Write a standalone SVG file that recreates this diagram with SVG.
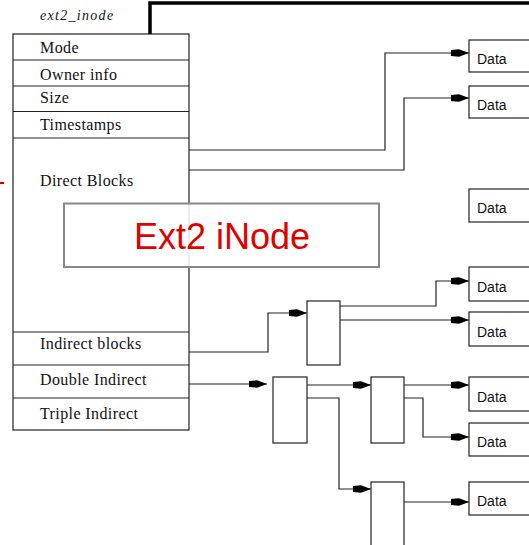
<svg xmlns="http://www.w3.org/2000/svg" width="529" height="545" viewBox="0 0 529 545">
<style>
.box{fill:#fff;stroke:#222;stroke-width:1.2}
.fld{font-family:"Liberation Serif",serif;font-size:16px;letter-spacing:0.4px;fill:#111}
.dt{font-family:"Liberation Sans",Arial,sans-serif;font-size:14px;fill:#111}
.ln{fill:none;stroke:#222;stroke-width:1.2}
</style>
<defs>
<marker id="ah" markerUnits="userSpaceOnUse" markerWidth="20" markerHeight="10" refX="18" refY="4" orient="auto">
<path d="M0,1 L8,0.3 L18,4 L8,7.7 L0,7 z" fill="#000"/>
</marker>
</defs>
<rect width="529" height="545" fill="#fff"/>
<g id="inode">
<text x="40" y="20" font-family="Liberation Serif,serif" font-style="italic" font-size="14" letter-spacing="1.3" fill="#111">ext2_inode</text>
<rect class="box" x="13" y="34" width="176" height="396"/>
<path class="ln" d="M13,60H189M13,86H189M13,111.5H189M13,138H189M13,332H189M13,365H189M13,398H189"/>
<text class="fld" x="40" y="53">Mode</text>
<text class="fld" x="40" y="80">Owner info</text>
<text class="fld" x="40" y="103">Size</text>
<text class="fld" x="40" y="130">Timestamps</text>
<text class="fld" x="40" y="186">Direct Blocks</text>
<text class="fld" x="40" y="349">Indirect blocks</text>
<text class="fld" x="40" y="385">Double Indirect</text>
<text class="fld" x="40" y="419">Triple Indirect</text>
</g>
<g id="connectors">
<path d="M150,34V3H529" fill="none" stroke="#000" stroke-width="3.5"/>
<path class="ln" marker-end="url(#ah)" d="M189,150H385V53H469"/>
<path class="ln" marker-end="url(#ah)" d="M189,170H404V98H469"/>
<path class="ln" marker-end="url(#ah)" d="M189,352H268V313H307"/>
<path class="ln" marker-end="url(#ah)" d="M340,306H436V281H469"/>
<path class="ln" marker-end="url(#ah)" d="M340,320H469"/>
<path class="ln" marker-end="url(#ah)" d="M189,384H267"/>
<path class="ln" marker-end="url(#ah)" d="M307,385H371"/>
<path class="ln" marker-end="url(#ah)" d="M307,398H339V489H371"/>
<path class="ln" marker-end="url(#ah)" d="M404,385H469"/>
<path class="ln" marker-end="url(#ah)" d="M404,398H423V437H469"/>
<path class="ln" marker-end="url(#ah)" d="M404,502H469"/>
</g>
<g id="ind1"><rect class="box" x="307" y="301" width="33" height="64"/></g>
<g id="dind1"><rect class="box" x="273" y="377" width="34" height="66"/></g>
<g id="dind2"><rect class="box" x="371" y="377" width="33" height="66"/></g>
<g id="dind3"><rect class="box" x="371" y="482" width="33" height="70"/></g>
<g id="data1"><rect class="box" x="469" y="40" width="70" height="32"/><text class="dt" x="477" y="64">Data</text></g>
<g id="data2"><rect class="box" x="469" y="86" width="70" height="32"/><text class="dt" x="477" y="110">Data</text></g>
<g id="data3"><rect class="box" x="469" y="189" width="70" height="33"/><text class="dt" x="477" y="213">Data</text></g>
<g id="data4"><rect class="box" x="469" y="267" width="70" height="34"/><text class="dt" x="477" y="292">Data</text></g>
<g id="data5"><rect class="box" x="469" y="312" width="70" height="34"/><text class="dt" x="477" y="337">Data</text></g>
<g id="data6"><rect class="box" x="469" y="377" width="70" height="34"/><text class="dt" x="477" y="402">Data</text></g>
<g id="data7"><rect class="box" x="469" y="423" width="70" height="33"/><text class="dt" x="477" y="447">Data</text></g>
<g id="data8"><rect class="box" x="469" y="482" width="70" height="33"/><text class="dt" x="477" y="506">Data</text></g>
<g id="mark"><path d="M0,183H4" stroke="#d00000" stroke-width="2"/></g>
<g id="title">
<rect x="64" y="203.5" width="315" height="63.5" fill="#fff" fill-opacity="0.85" stroke="#888" stroke-width="2"/>
<text x="222" y="249" text-anchor="middle" font-family="Liberation Sans,Arial,sans-serif" font-size="36" fill="#e00000">Ext2 iNode</text>
</g>
</svg>
